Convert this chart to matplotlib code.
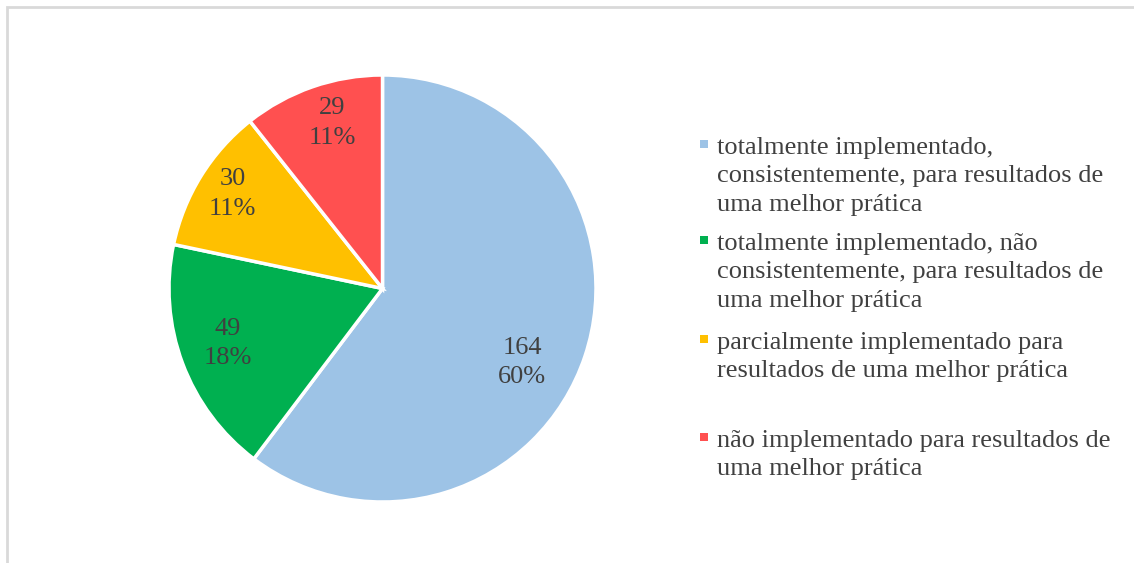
import numpy as np
import matplotlib.pyplot as plt
from matplotlib.patches import Rectangle

# data
categories = [
    "totalmente implementado,\nconsistentemente, para resultados de\numa melhor prática",
    "totalmente implementado, não\nconsistentemente, para resultados de\numa melhor prática",
    "parcialmente implementado para\nresultados de uma melhor prática",
    "não implementado para resultados de\numa melhor prática",
]
counts = [164, 49, 30, 29]
colors = ["#9DC3E6", "#00B050", "#FFC000", "#FF5050"]

# label placement (fraction of radius, angle shift in degrees)
label_r = [0.74, 0.77, 0.83, 0.81]
label_shift = [-9.4, -1.0, -0.5, -2.4]

W, H = 1134, 563
fig = plt.figure(figsize=(W / 100, H / 100), dpi=100)
fig.patch.set_facecolor("white")

# chart border (only top and left visible)
fig.patches.append(Rectangle((7 / W, -0.1), 1.2, (H - 7) / H + 0.1,
                             transform=fig.transFigure, fill=False,
                             edgecolor="#D9D9D9", linewidth=2))

cx, cy, r = 382.5, 288.5, 213.5
ax = fig.add_axes([(cx - r) / W, (H - cy - r) / H, 2 * r / W, 2 * r / H])

wedges, _ = ax.pie(counts, colors=colors, startangle=90, counterclock=False,
                   wedgeprops=dict(edgecolor="white", linewidth=2.5))
for w in wedges:
    w.set_clip_on(False)
ax.set_xlim(-1, 1)
ax.set_ylim(-1, 1)
ax.set_aspect("equal")
ax.axis("off")

total = sum(counts)
font = "Liberation Serif"
for w, c, rr, sh in zip(wedges, counts, label_r, label_shift):
    mid = np.deg2rad((w.theta1 + w.theta2) / 2 + sh)
    ax.text(rr * np.cos(mid), rr * np.sin(mid), f"{c}\n{round(100 * c / total)}%",
            ha="center", va="center", fontsize=19, family=font,
            color="#404040", linespacing=1.45)

# legend drawn by hand
slot_top = [147, 243, 342, 440]
for cat, col, y in zip(categories, colors, slot_top):
    fig.patches.append(Rectangle((700 / W, 1 - (y + 1) / H), 8 / W, 8 / H,
                                 transform=fig.transFigure, facecolor=col,
                                 edgecolor="none"))
    fig.text(717 / W, 1 - (y - 10) / H, cat, ha="left", va="top",
             fontsize=19, family=font, color="#404040", linespacing=1.38)

fig.savefig("out.png", dpi=100)
